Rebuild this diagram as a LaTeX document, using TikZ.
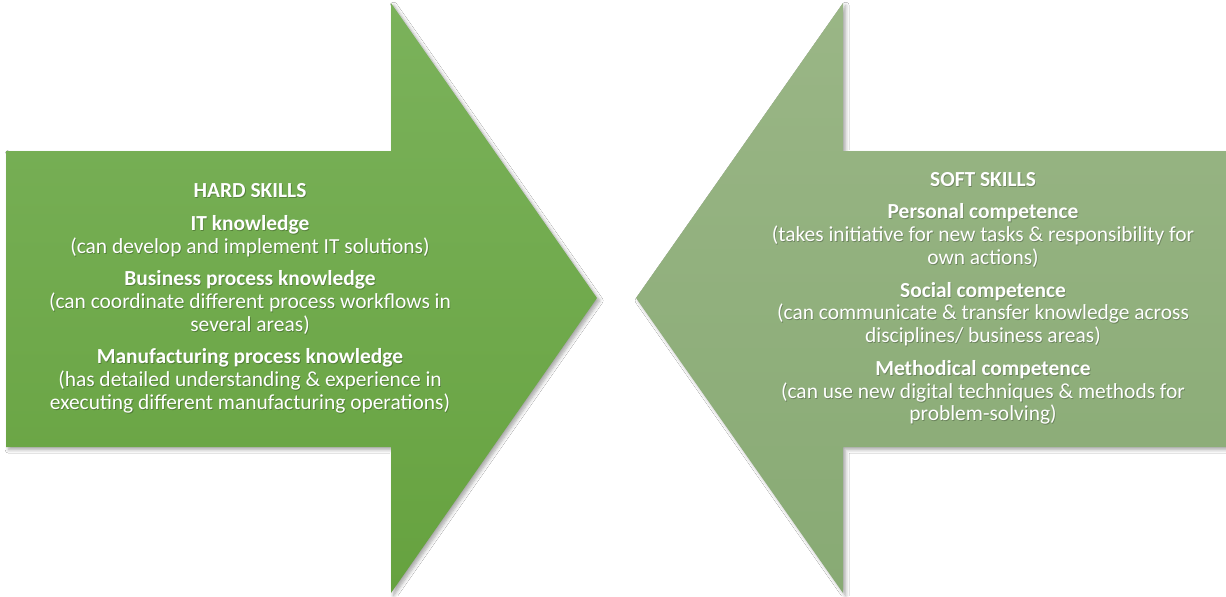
\documentclass[tikz,border=0pt]{standalone}
\usepackage{fontspec}
\setmainfont{Carlito}
\usetikzlibrary{shadows.blur}
\definecolor{hardtop}{HTML}{7BB25B}
\definecolor{hardbot}{HTML}{66A23F}
\definecolor{softtop}{HTML}{9AB686}
\definecolor{softbot}{HTML}{88AA74}
\newcommand{\hardtext}{\textbf{HARD SKILLS}\\[5.5pt]
\textbf{IT knowledge}\\
(can develop and implement IT solutions)\\[5.5pt]
\textbf{Business process knowledge}\\
(can coordinate different process workflows in\\
several areas)\\[5.5pt]
\textbf{Manufacturing process knowledge}\\
(has detailed understanding \& experience in\\
executing different manufacturing operations)}
\newcommand{\softtext}{\textbf{SOFT SKILLS}\\[5.5pt]
\textbf{Personal competence}\\
(takes initiative for new tasks \& responsibility for\\
own actions)\\[5.5pt]
\textbf{Social competence}\\
(can communicate \& transfer knowledge across\\
disciplines/ business areas)\\[5.5pt]
\textbf{Methodical competence}\\
(can use new digital techniques \& methods for\\
problem-solving)}
\tikzset{
  arrowshape/.style={blur shadow={shadow xshift=1.5pt,shadow yshift=-1.5pt,shadow blur steps=6,shadow opacity=35,shadow blur radius=2pt}},
  skilltext/.style={align=center,text=white,font=\fontsize{12.2}{13}\selectfont,inner sep=0pt},
  textshadow/.style={align=center,text=black,opacity=0.25,font=\fontsize{12.2}{13}\selectfont,inner sep=0pt}
}
\begin{document}
\begin{tikzpicture}[x=0.02cm,y=-0.02cm]
\useasboundingbox (0,0) rectangle (1226,596);
\fill[white] (0,0) rectangle (1226,596);
% left arrow
\path[arrowshape,top color=hardtop,bottom color=hardbot]
  (6,151) -- (391,151) -- (391,3) -- (597,298) -- (391,593) -- (391,447) -- (6,447) -- cycle;
% right arrow
\path[arrowshape,top color=softtop,bottom color=softbot]
  (1226,151) -- (843,151) -- (843,3) -- (636,298) -- (843,593) -- (843,447) -- (1226,447) -- cycle;
% texts
\node[textshadow] (hardsh) at (250.8,299.5) {\hardtext};
\node[skilltext] (hard) at (250,298.5) {\hardtext};
\node[textshadow] (softsh) at (983.8,299.5) {\softtext};
\node[skilltext] (soft) at (983,298.5) {\softtext};
\end{tikzpicture}
\end{document}
